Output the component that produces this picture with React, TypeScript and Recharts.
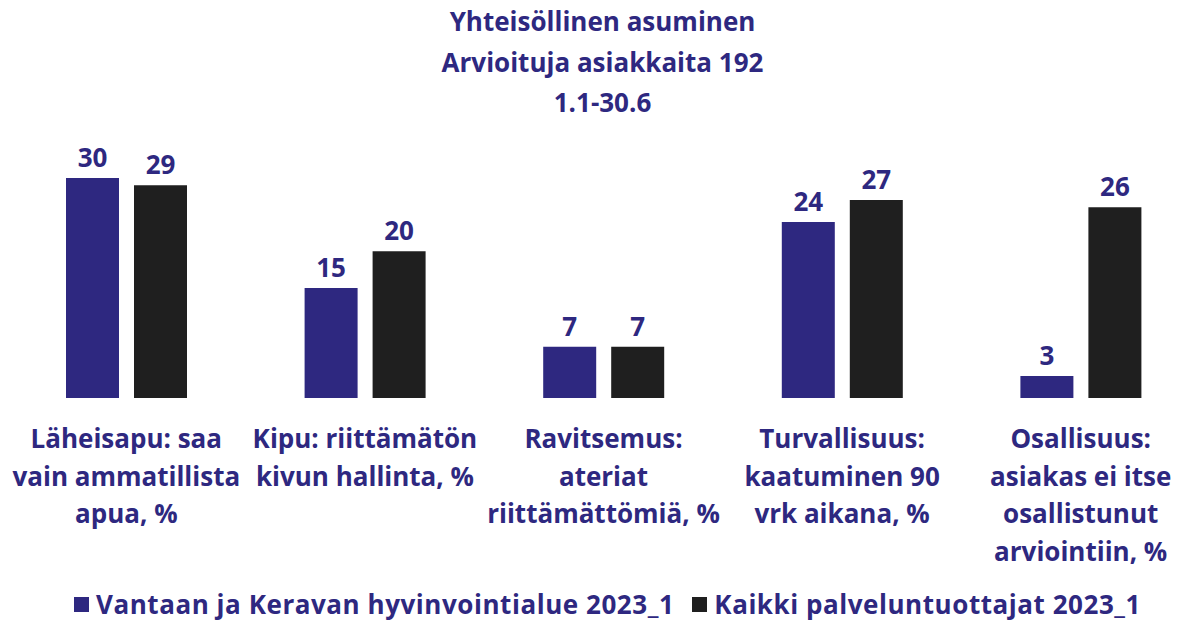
import React from "react";
import { BarChart, Bar, XAxis, YAxis, Legend, LabelList } from "recharts";

const categoryLines = [
  ["Läheisapu: saa", "vain ammatillista", "apua, %"],
  ["Kipu: riittämätön", "kivun hallinta, %"],
  ["Ravitsemus:", "ateriat", "riittämättömiä, %"],
  ["Turvallisuus:", "kaatuminen 90", "vrk aikana, %"],
  ["Osallisuus:", "asiakas ei itse", "osallistunut", "arviointiin, %"],
];
const vantaaValues = [30, 15, 7, 24, 3];
const kaikkiValues = [29, 20, 7, 27, 26];
const seriesNames = [
  "Vantaan ja Keravan hyvinvointialue 2023_1",
  "Kaikki palveluntuottajat 2023_1",
];
const titleLines = ["Yhteisöllinen asuminen", "Arvioituja asiakkaita 192", "1.1-30.6"];

const NAVY = "#2E2880";
const BLUE = "#2E2880";
const BLACK = "#1F1F1F";
const FONT = "'Open Sans', sans-serif";
const FS = 26;

const data = categoryLines.map((lines, i) => ({
  category: lines.join(" "),
  vantaa: vantaaValues[i],
  kaikki: kaikkiValues[i],
}));

function CategoryTick(props: any) {
  const { x, y, index } = props;
  const lines = categoryLines[index] || [];
  return (
    <text
      x={x}
      y={y}
      textAnchor="middle"
      fill={NAVY}
      fontSize={FS}
      fontWeight={700}
      fontFamily={FONT}
    >
      {lines.map((l, i) => (
        <tspan key={i} x={x} dy={i === 0 ? 42 : 37.5}>
          {l}
        </tspan>
      ))}
    </text>
  );
}

function LegendContent() {
  const colors = [BLUE, BLACK];
  return (
    <div
      style={{
        display: "flex",
        justifyContent: "center",
        gap: 18,
        fontFamily: FONT,
        fontWeight: 700,
        fontSize: FS,
        color: NAVY,
        marginLeft: 8,
        paddingTop: 6,
        lineHeight: "34px",
        letterSpacing: 0.55,
      }}
    >
      {seriesNames.map((n, i) => (
        <div key={n} style={{ display: "flex", alignItems: "center", gap: 7 }}>
          <span style={{ width: 15, height: 15, background: colors[i], display: "inline-block" }} />
          <span>{n}</span>
        </div>
      ))}
    </div>
  );
}

export default function App() {
  return (
    <div
      style={{
        position: "fixed",
        left: 0,
        top: 0,
        width: 1180,
        height: 621,
        overflow: "hidden",
        background: "#fff",
        fontFamily: FONT,
      }}
    >
      <div
        style={{
          position: "absolute",
          left: 0,
          top: 1,
          width: 1205,
          textAlign: "center",
          color: NAVY,
          fontWeight: 700,
          fontSize: FS,
          lineHeight: "40.5px",
        }}
      >
        {titleLines.map((t) => (
          <div key={t}>{t}</div>
        ))}
      </div>
      <div style={{ position: "absolute", left: 7, top: 0 }}>
        <BarChart
          width={1193}
          height={621}
          data={data}
          margin={{ top: 178, right: 0, bottom: 0, left: 0 }}
          barSize={53}
          barGap={15}
        >
          <XAxis
            dataKey="category"
            axisLine={false}
            tickLine={false}
            interval={0}
            height={183}
            tick={<CategoryTick />}
          />
          <YAxis hide domain={[0, 30]} />
          <Legend verticalAlign="bottom" height={40} content={<LegendContent />} />
          <Bar dataKey="vantaa" name={seriesNames[0]} fill={BLUE} isAnimationActive={false}>
            <LabelList
              dataKey="vantaa"
              position="top"
              offset={11}
              fill={NAVY}
              fontSize={FS}
              fontWeight={700}
              fontFamily={FONT}
            />
          </Bar>
          <Bar dataKey="kaikki" name={seriesNames[1]} fill={BLACK} isAnimationActive={false}>
            <LabelList
              dataKey="kaikki"
              position="top"
              offset={11}
              fill={NAVY}
              fontSize={FS}
              fontWeight={700}
              fontFamily={FONT}
            />
          </Bar>
        </BarChart>
      </div>
    </div>
  );
}
